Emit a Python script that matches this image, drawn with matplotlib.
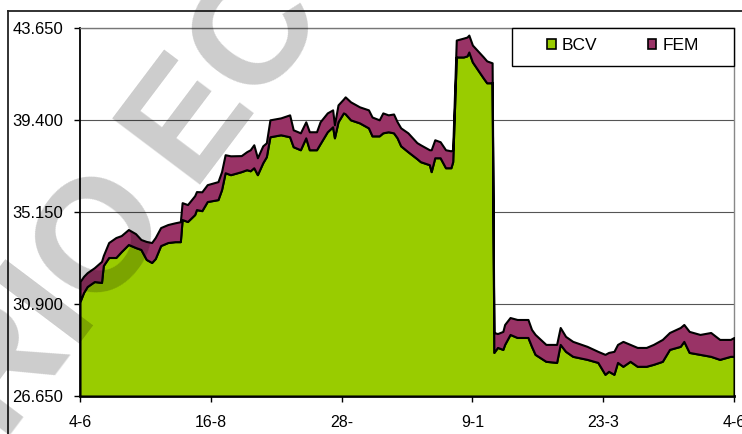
import matplotlib
matplotlib.use("Agg")
import matplotlib.pyplot as plt
from matplotlib.patches import Patch, Rectangle
from matplotlib.lines import Line2D

# days counted from 4-6 (one year on a date axis, ticks every 73 days)
day = [0, 2, 4, 8, 12, 13, 16, 20, 23, 27, 31, 34, 37, 40, 42, 45, 49, 53, 56, 57,
       60, 64, 65, 68, 71, 77, 79, 81, 84, 90, 93, 95, 97, 99, 102, 104, 106, 112, 117, 119,
       123, 126, 128, 132,
       134, 138, 141, 142, 144, 147, 148, 151, 156, 161, 163, 167, 169, 172, 175, 177, 179, 183, 188, 190,
       195, 196, 198, 201, 204, 207, 208, 210, 214, 216, 217, 219, 225, 227, 230,
       231, 233, 236, 237, 240, 244, 250, 252, 254, 260, 266, 268, 271, 275, 283, 289, 293, 295, 298, 300,
       303, 307, 311, 316, 320, 325, 329, 335, 337, 340, 346, 352, 357, 363, 365]

bcv = [31.01, 31.43, 31.70, 31.93, 31.89, 32.67, 33.04, 33.04, 33.31, 33.64,
       33.50, 33.41, 32.95, 32.81, 32.99, 33.59, 33.73, 33.77, 33.77, 34.79,
       34.70, 35.02, 35.25, 35.20, 35.62, 35.71, 36.17, 36.95, 36.86, 37.00,
       37.09, 37.04, 37.18, 36.86, 37.41, 37.69, 38.61, 38.70, 38.61, 38.15,
       38.01, 38.56, 38.01, 38.01,
       38.29, 38.84, 39.07, 38.56, 39.30, 39.71, 39.67, 39.39, 39.25, 39.02,
       38.65, 38.65, 38.79, 38.84, 38.79, 38.56, 38.19, 37.92, 37.60, 37.46,
       37.32, 37.00, 37.64, 37.64, 37.18, 37.18, 37.46, 42.29, 42.29, 42.34,
       42.52, 42.06, 41.33, 41.10, 41.10,
       28.66, 28.89, 28.80, 29.03, 29.49, 29.35, 29.35, 28.94, 28.57, 28.25,
       28.20, 29.03, 28.71, 28.48, 28.34, 28.20, 27.65, 27.79, 27.65, 28.20,
       28.02, 28.25, 28.02, 28.02, 28.11, 28.25, 28.80, 28.94, 29.17, 28.66,
       28.57, 28.48, 28.34, 28.48, 28.48]

fem = [0.92, 0.74, 0.64, 0.64, 0.97, 0.46, 0.69, 0.92, 0.74, 0.69,
       0.64, 0.46, 0.83, 0.92, 0.97, 0.83, 0.83, 0.87, 0.92, 0.78,
       0.78, 0.87, 0.83, 0.87, 0.78, 0.83, 0.83, 0.83, 0.87, 0.74,
       0.83, 0.97, 1.06, 0.78, 0.78, 0.64, 0.78, 0.78, 1.01, 0.78,
       0.78, 0.74, 0.83, 0.83,
       1.01, 0.87, 0.78, 0.60, 0.78, 0.64, 0.78, 0.83, 0.74, 0.83,
       0.87, 0.74, 0.92, 0.78, 0.87, 0.74, 0.83, 0.87, 0.74, 0.78,
       0.69, 1.01, 0.83, 0.74, 0.83, 0.78, 0.55, 0.78, 0.87, 0.87,
       0.78, 0.78, 0.97, 1.01, 0.92,
       0.92, 0.64, 0.83, 0.92, 0.78, 0.83, 0.83, 0.78, 0.92, 0.78,
       0.83, 0.78, 0.69, 0.69, 0.60, 0.51, 0.92, 0.87, 1.06, 0.83,
       1.15, 0.78, 0.87, 0.87, 0.92, 1.01, 0.78, 0.87, 0.78, 0.97,
       0.92, 1.10, 0.92, 0.78, 0.87]

xtick_days = [0, 73, 146, 219, 292, 365]
xtick_labels = ["4-6", "16-8", "28-", "9-1", "23-3", "4-6"]
ytick_vals = [26.65, 30.90, 35.15, 39.40, 43.65]
ytick_labels = ["26.650", "30.900", "35.150", "39.400", "43.650"]
series_names = ["BCV", "FEM"]

GREEN = "#99CC00"
PURPLE = "#993366"
W, H = 742, 434

plt.rcParams['font.family'] = ['Liberation Sans', 'DejaVu Sans']

fig = plt.figure(figsize=(W / 100, H / 100), dpi=100)
ax = fig.add_axes([80 / W, 1 - 396 / H, 654 / W, (396 - 27.5) / H])

top = [b + f for b, f in zip(bcv, fem)]
y0 = ytick_vals[0]
ax.fill_between(day, y0, bcv, facecolor=GREEN, edgecolor="black", lw=1.5, zorder=3)
ax.fill_between(day, bcv, top, facecolor=PURPLE, edgecolor="black", lw=1.5, zorder=3)

ax.set_xlim(0, 365)
ax.set_ylim(ytick_vals[0], ytick_vals[-1])
ax.set_xticks(xtick_days, xtick_labels)
ax.set_yticks(ytick_vals, ytick_labels)
ax.yaxis.grid(True, color="#555555", lw=0.8)
ax.set_axisbelow(True)
ax.tick_params(axis="both", direction="out", length=4, width=1, colors="black")
ax.tick_params(axis="y", pad=8, labelsize=12)
ax.tick_params(axis="x", pad=10, labelsize=11.5)

ax.spines["left"].set_linewidth(1.3)
ax.spines["bottom"].set_linewidth(2.0)
ax.spines["right"].set_color("#888888")
ax.spines["top"].set_color("#777777")
ax.spines["right"].set_linewidth(1.0)
ax.spines["top"].set_linewidth(1.0)

# legend box drawn separately so the padding can be wider than tall
lx0 = (512 - 80) / 654
ly0 = (396 - 66) / 368.5
ax.add_patch(Rectangle((lx0, ly0), 1 - lx0, 1 - ly0, transform=ax.transAxes,
                       facecolor="white", edgecolor="black", lw=1.0, zorder=5, clip_on=False))
handles = [Patch(facecolor=GREEN, edgecolor="black", lw=1.2, label=series_names[0]),
           Patch(facecolor=PURPLE, edgecolor="black", lw=1.2, label=series_names[1])]
leg = ax.legend(handles=handles, ncol=2, frameon=False, loc="center",
                bbox_to_anchor=((lx0 + 1) / 2, (ly0 + 1) / 2 + 0.004), fontsize=12.5,
                handlelength=0.5, handleheight=0.5, handletextpad=0.35, columnspacing=2.9)
leg.set_zorder(6)

# outer chart frame
fig.add_artist(Line2D([8 / W, 1], [1 - 11 / H, 1 - 11 / H], transform=fig.transFigure,
                      color="#222222", lw=1.3))
fig.add_artist(Line2D([8 / W, 8 / W], [0, 1 - 11 / H], transform=fig.transFigure,
                      color="#222222", lw=1.3))

# watermark (semi-transparent, over the chart)
fig.text(171 / W, 1 - 208 / H, "DIÁRIO", rotation=53, rotation_mode="anchor",
         ha="right", va="baseline", fontsize=115, fontweight="bold",
         color="black", alpha=0.2, zorder=10)
fig.text(190 / W, 1 - 185 / H, "ECONÓMICO", rotation=53, rotation_mode="anchor",
         ha="left", va="baseline", fontsize=115, fontweight="bold",
         color="black", alpha=0.2, zorder=10)

fig.savefig("out.png", dpi=100)
